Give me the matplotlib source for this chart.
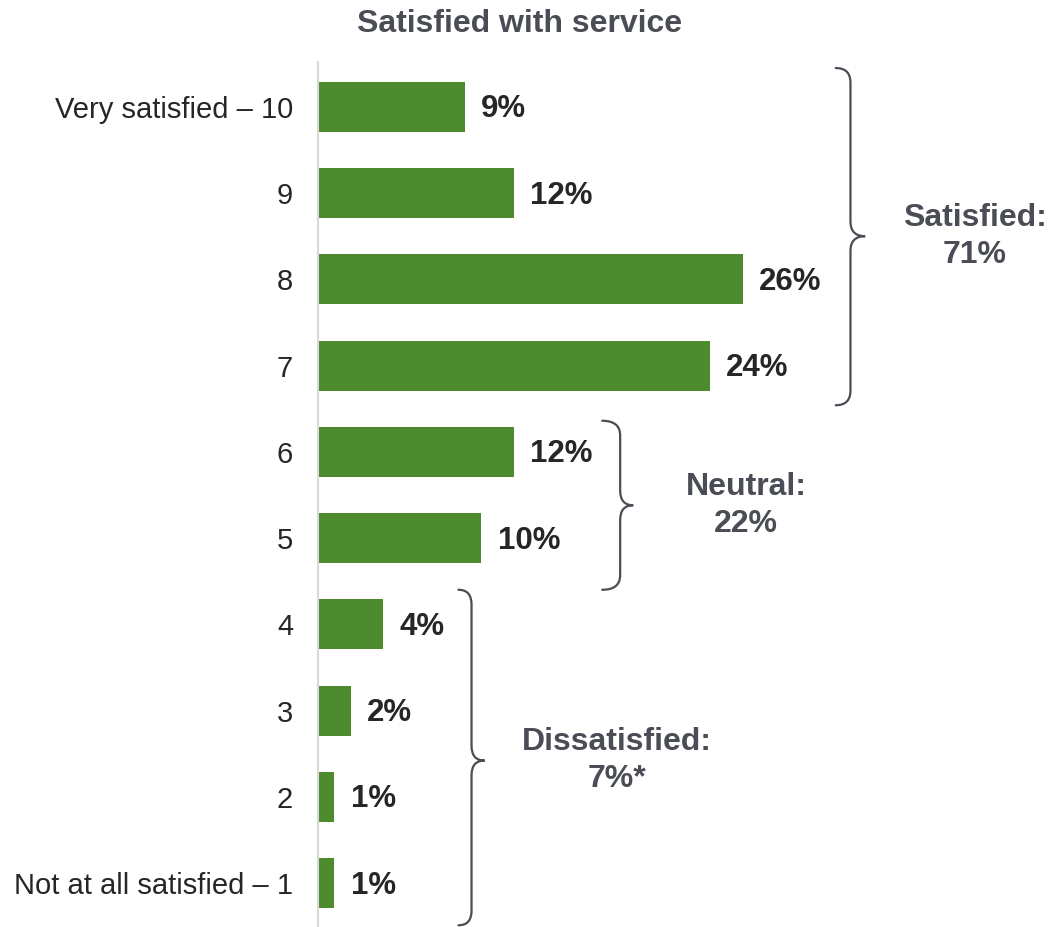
import matplotlib.pyplot as plt
from matplotlib.path import Path
from matplotlib.patches import PathPatch

plt.rcParams['font.family'] = ['Liberation Sans', 'DejaVu Sans']

# data
categories = ['Not at all satisfied \u2013 1', '2', '3', '4', '5', '6', '7', '8', '9', 'Very satisfied \u2013 10']
values = [1, 1, 2, 4, 10, 12, 24, 26, 12, 9]
group_labels = ['Satisfied:\n71%', 'Neutral:\n22%', 'Dissatisfied:\n7%*']

# brace layout: (x_end, x_line, x_tip, y_top, y_bottom, y_tip, label_x)
brace_layout = [
    (31.7, 32.6, 33.5, 9.45, 5.54, 7.50, 40.2),
    (17.4, 18.5, 19.3, 5.36, 3.40, 4.38, 26.2),
    (8.6, 9.4, 10.2, 3.40, -0.49, 1.42, 18.3),
]

bar_color = '#4d8b2e'
text_dark = '#262626'
brace_color = '#4a4d55'

fig = plt.figure(figsize=(10.53, 9.27), dpi=100)
ax = fig.add_axes([318 / 1053, 0, 1 - 318 / 1053, 865 / 927])

ypos = list(range(len(categories)))
ax.barh(ypos, values, height=0.58, color=bar_color)
for y, v in zip(ypos, values):
    ax.text(v + 1.0, y - 0.03, f'{v}%', va='center', ha='left', fontsize=22.5,
            fontweight='bold', color=text_dark)

ax.set_xlim(0, 45)
ax.set_ylim(-0.51, 9.52)
ax.set_yticks(ypos)
ax.set_yticklabels(categories, fontsize=21, color=text_dark)
ax.tick_params(axis='y', length=0, pad=18)
ax.set_xticks([])
for s in ['top', 'right', 'bottom']:
    ax.spines[s].set_visible(False)
ax.spines['left'].set_color('#d9d9d9')
ax.spines['left'].set_linewidth(1.5)


def brace(x0, x1, x2, yt, yb, ym, r=0.17):
    verts = [(x0, yt), (x1, yt), (x1, yt - r),
             (x1, ym + r), (x1, ym), (x2, ym),
             (x1, ym), (x1, ym - r),
             (x1, yb + r), (x1, yb), (x0, yb)]
    codes = [Path.MOVETO, Path.CURVE3, Path.CURVE3,
             Path.LINETO, Path.CURVE3, Path.CURVE3,
             Path.CURVE3, Path.CURVE3,
             Path.LINETO, Path.CURVE3, Path.CURVE3]
    return PathPatch(Path(verts, codes), fill=False, edgecolor=brace_color,
                     linewidth=1.6, clip_on=False, capstyle='round')


for (x0, x1, x2, yt, yb, ym, lx), lab in zip(brace_layout, group_labels):
    ax.add_patch(brace(x0, x1, x2, yt, yb, ym))
    ax.text(lx, ym, lab, ha='center', va='center', fontsize=23,
            fontweight='bold', color=brace_color, linespacing=1.3,
            clip_on=False)

fig.text(520 / 1053, 1 - 24 / 927, 'Satisfied with service', ha='center',
         va='center', fontsize=23, fontweight='bold', color=brace_color)

fig.savefig('out.png', dpi=100)
